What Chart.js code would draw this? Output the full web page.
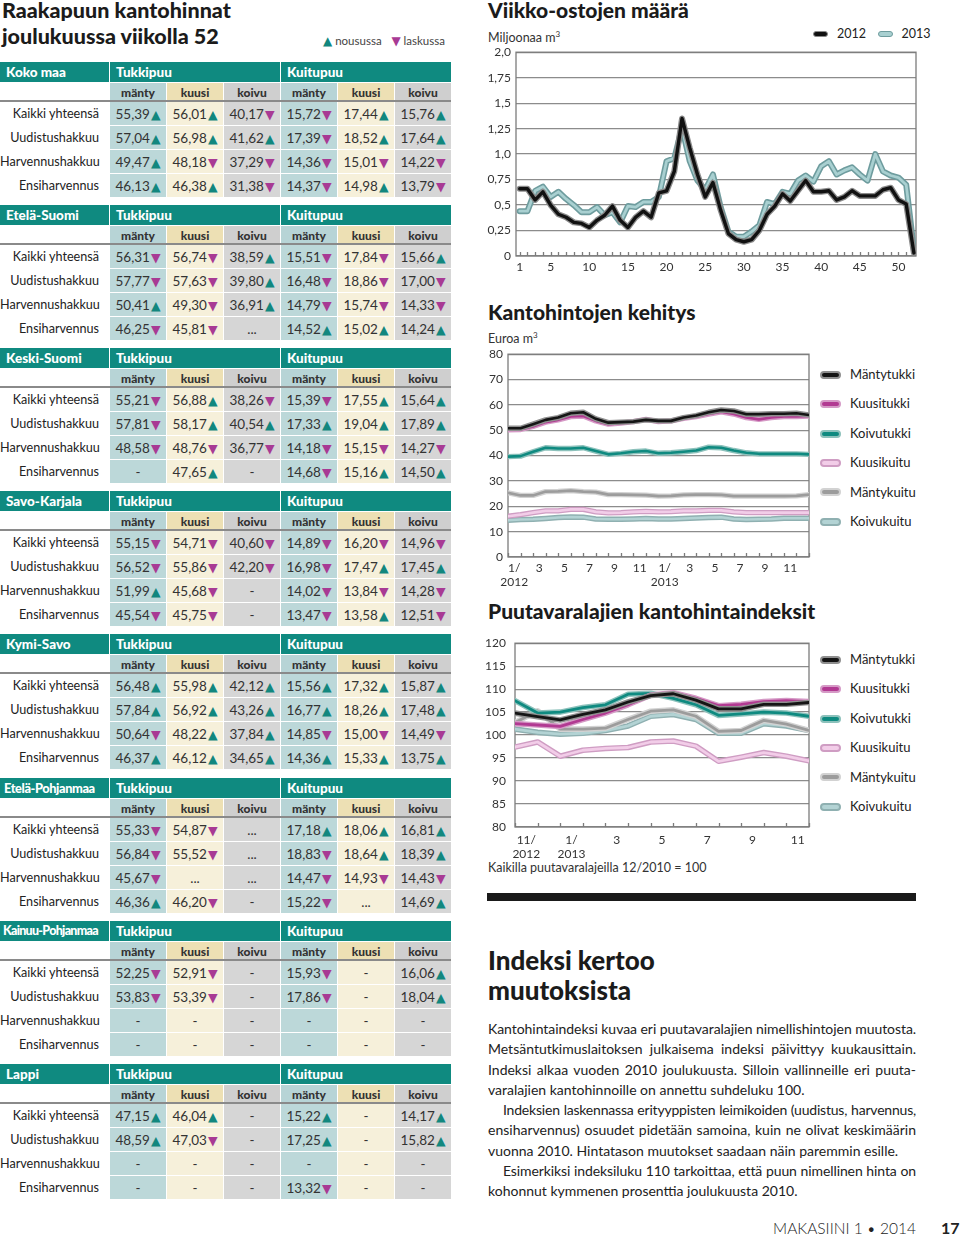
<!DOCTYPE html>
<html lang="fi">
<head>
<meta charset="utf-8">
<title>Raakapuun kantohinnat</title>
<script src="https://cdn.jsdelivr.net/npm/chart.js@4.4.1/dist/chart.umd.min.js"></script>
<style>
  body { margin: 0; width: 960px; height: 1238px; position: relative; overflow: hidden; background: #fff; font-family: Lato, "Open Sans", sans-serif; color: #222; }
  .abs { position: absolute; white-space: nowrap; }
  .ttl { font-weight: 900; font-size: 21px; line-height: 26px; color: #1b1b1b; }
  .unit { font-size: 12.5px; line-height: 16px; color: #333; }
  .up { color: #12877e; }
  .down { color: #a83a94; }
  .arr { font-family: "DejaVu Sans", sans-serif; font-size: 12.5px; margin-left: 1px; }

  .blk { position: absolute; left: 0; width: 451px; display: grid; grid-template-columns: 109px repeat(6, 56px); grid-template-rows: 20px 18px repeat(4, 23px); gap: 1px; }
  .hd { background: #0f8a80; color: #fff; font-weight: 900; font-size: 13.5px; line-height: 20px; padding-left: 6px; white-space: nowrap; overflow: hidden; }
  .hd.mid { font-size: 12.8px; letter-spacing: -0.4px; padding-left: 4px; }
  .hd.small { font-size: 12.5px; letter-spacing: -0.7px; padding-left: 3px; }
  .sub { font-weight: 900; font-size: 12px; line-height: 19px; text-align: center; color: #333; }
  .sub.c0 { background: #b7d4d6; } .sub.c1 { background: #ede0b4; } .sub.c2 { background: #cfcfcf; }
  .cell { text-align: center; font-size: 13.5px; line-height: 24px; color: #333; white-space: nowrap; }
  .cell.c0 { background: #bcd8d9; } .cell.c1 { background: #f6f0da; } .cell.c2 { background: #d6d6d6; }
  .lab { text-align: right; padding-right: 10px; font-size: 12.6px; line-height: 24px; color: #222; white-space: nowrap; }
  .rule { position: absolute; left: 0; top: 38px; width: 451px; height: 2px; background: #8a8a8a; }

  .lg { position: absolute; left: 820px; font-size: 13px; line-height: 16px; color: #222; }
  .pill { display: inline-block; width: 17px; height: 4px; border-radius: 4px; vertical-align: middle; margin-right: 9px; position: relative; top: -1px; }

  .para div { white-space: nowrap; overflow: hidden; text-align: justify; text-align-last: justify; height: 20.25px; line-height: 20.25px; }
  .para div.last { text-align-last: left; }
  .para div.ind { padding-left: 15px; }
</style>
</head>
<body>

<div class="abs ttl" style="left:2px;top:-3px;font-size:21.5px;">Raakapuun kantohinnat<br>joulukuussa viikolla 52</div>
<div class="abs" style="left:322px;top:34px;font-size:11.5px;color:#444;">
  <span class="arr up" style="font-size:12px">▲</span> nousussa&nbsp;&nbsp;&nbsp;<span class="arr down" style="font-size:12px">▼</span> laskussa
</div>
<div id="tables"></div>

<!-- chart 1 -->
<div class="abs ttl" style="left:488px;top:-3px;">Viikko-ostojen määrä</div>
<div class="abs unit" style="left:488px;top:26px;">Miljoonaa m<sup style="font-size:8px">3</sup></div>
<div class="abs" style="left:813px;top:26px;font-size:12.5px;line-height:16px;">
  <span class="pill" style="background:#111;border:1.5px solid #8a8a8a;width:13px;"></span>2012&nbsp;&nbsp;
  <span class="pill" style="background:#a9d0d1;border:1.5px solid #6e9c9e;width:13px;margin-left:2px"></span>2013
</div>
<canvas id="weekly" class="abs" width="440" height="236" style="left:480px;top:40px;"></canvas>

<!-- chart 2 -->
<div class="abs ttl" style="left:488px;top:299px;">Kantohintojen kehitys</div>
<div class="abs unit" style="left:488px;top:327px;">Euroa m<sup style="font-size:8px">3</sup></div>
<canvas id="prices" class="abs" width="335" height="247" style="left:480px;top:342px;"></canvas>
<div id="legend1"></div>

<!-- chart 3 -->
<div class="abs ttl" style="left:488px;top:598px;">Puutavaralajien kantohintaindeksit</div>
<canvas id="indexes" class="abs" width="335" height="232" style="left:480px;top:627px;"></canvas>
<div id="legend2"></div>
<div class="abs unit" style="left:488px;top:860px;">Kaikilla puutavaralajeilla 12/2010 = 100</div>

<div class="abs" style="left:487px;top:893px;width:429px;height:8px;background:#1a1a1a;"></div>

<div class="abs" style="left:488px;top:945px;font-weight:900;font-size:26px;line-height:30px;color:#1b1b1b;">Indeksi kertoo<br>muutoksista</div>
<div id="para" class="abs para" style="left:488px;top:1019px;width:428px;font-size:14px;color:#222;">
  <div>Kantohintaindeksi kuvaa eri puutavaralajien nimellishintojen muutosta.</div>
  <div>Metsäntutkimuslaitoksen julkaisema indeksi päivittyy kuukausittain.</div>
  <div>Indeksi alkaa vuoden 2010 joulukuusta. Silloin vallinneille eri puuta-</div>
  <div class="last">varalajien kantohinnoille on annettu suhdeluku 100.</div>
  <div class="ind">Indeksien laskennassa erityyppisten leimikoiden (uudistus, harvennus,</div>
  <div>ensiharvennus) osuudet pidetään samoina, kuin ne olivat keskimäärin</div>
  <div class="last">vuonna 2010. Hintatason muutokset saadaan näin paremmin esille.</div>
  <div class="ind">Esimerkiksi indeksiluku 110 tarkoittaa, että puun nimellinen hinta on</div>
  <div class="last">kohonnut kymmenen prosenttia joulukuusta 2010.</div>
</div>

<div class="abs" style="left:740px;width:176px;text-align:right;top:1218px;font-size:15.5px;line-height:20px;font-weight:300;color:#222;">MAKASIINI 1 • 2014</div>
<div class="abs" style="left:941px;top:1218px;font-size:16px;line-height:20px;font-weight:700;color:#222;">17</div>

<script>
// ---- table data (u = nousussa, d = laskussa) ----
const rowLabels = ['Kaikki yhteensä', 'Uudistushakkuu', 'Harvennushakkuu', 'Ensiharvennus'];
const species = ['mänty', 'kuusi', 'koivu', 'mänty', 'kuusi', 'koivu'];
const regions = ['Koko maa', 'Etelä-Suomi', 'Keski-Suomi', 'Savo-Karjala', 'Kymi-Savo', 'Etelä-Pohjanmaa', 'Kainuu-Pohjanmaa', 'Lappi'];

const kokoMaa = [
  ['55,39u', '56,01u', '40,17d', '15,72d', '17,44u', '15,76u'],
  ['57,04u', '56,98u', '41,62u', '17,39d', '18,52u', '17,64u'],
  ['49,47u', '48,18d', '37,29d', '14,36d', '15,01d', '14,22d'],
  ['46,13u', '46,38u', '31,38d', '14,37d', '14,98u', '13,79d']
];
const etelaSuomi = [
  ['56,31d', '56,74d', '38,59u', '15,51d', '17,84d', '15,66u'],
  ['57,77d', '57,63d', '39,80u', '16,48d', '18,86d', '17,00d'],
  ['50,41u', '49,30d', '36,91u', '14,79d', '15,74d', '14,33d'],
  ['46,25d', '45,81d', '...', '14,52u', '15,02u', '14,24u']
];
const keskiSuomi = [
  ['55,21d', '56,88u', '38,26d', '15,39d', '17,55u', '15,64u'],
  ['57,81d', '58,17u', '40,54u', '17,33u', '19,04u', '17,89u'],
  ['48,58d', '48,76d', '36,77d', '14,18d', '15,15d', '14,27d'],
  ['-', '47,65u', '-', '14,68d', '15,16u', '14,50u']
];
const savoKarjala = [
  ['55,15d', '54,71d', '40,60d', '14,89d', '16,20d', '14,96d'],
  ['56,52d', '55,86d', '42,20d', '16,98d', '17,47u', '17,45u'],
  ['51,99u', '45,68d', '-', '14,02d', '13,84d', '14,28d'],
  ['45,54d', '45,75d', '-', '13,47d', '13,58u', '12,51d']
];
const kymiSavo = [
  ['56,48u', '55,98u', '42,12u', '15,56u', '17,32u', '15,87u'],
  ['57,84u', '56,92u', '43,26u', '16,77u', '18,26u', '17,48u'],
  ['50,64d', '48,22u', '37,84u', '14,85d', '15,00d', '14,49d'],
  ['46,37u', '46,12u', '34,65u', '14,36u', '15,33u', '13,75u']
];
const etelaPohjanmaa = [
  ['55,33d', '54,87d', '...', '17,18u', '18,06u', '16,81u'],
  ['56,84d', '55,52d', '...', '18,83d', '18,64u', '18,39u'],
  ['45,67d', '...', '...', '14,47d', '14,93d', '14,43d'],
  ['46,36u', '46,20d', '-', '15,22d', '...', '14,69u']
];
const kainuuPohjanmaa = [
  ['52,25d', '52,91d', '-', '15,93d', '-', '16,06u'],
  ['53,83d', '53,39d', '-', '17,86d', '-', '18,04u'],
  ['-', '-', '-', '-', '-', '-'],
  ['-', '-', '-', '-', '-', '-']
];
const lappi = [
  ['47,15u', '46,04u', '-', '15,22u', '-', '14,17u'],
  ['48,59u', '47,03d', '-', '17,25u', '-', '15,82u'],
  ['-', '-', '-', '-', '-', '-'],
  ['-', '-', '-', '13,32d', '-', '-']
];
const regionRows = [kokoMaa, etelaSuomi, keskiSuomi, savoKarjala, kymiSavo, etelaPohjanmaa, kainuuPohjanmaa, lappi];

// ---- Viikko-ostojen määrä, milj. m3, viikot 1-52 ----
const weekTicks = [1, 5, 10, 15, 20, 25, 30, 35, 40, 45, 50];
const weekly2012 = [0.66, 0.66, 0.55, 0.63, 0.50, 0.41, 0.38, 0.33, 0.32, 0.28, 0.35, 0.40, 0.49, 0.35, 0.28, 0.38, 0.44, 0.38, 0.62, 0.64, 0.83, 1.35, 1.06, 0.80, 0.58, 0.72, 0.45, 0.22, 0.16, 0.14, 0.16, 0.25, 0.41, 0.49, 0.61, 0.54, 0.64, 0.74, 0.63, 0.63, 0.64, 0.55, 0.58, 0.64, 0.59, 0.59, 0.59, 0.65, 0.67, 0.55, 0.51, 0.03];
const weekly2013 = [0.44, 0.44, 0.64, 0.68, 0.58, 0.63, 0.56, 0.50, 0.43, 0.43, 0.48, 0.40, 0.43, 0.33, 0.49, 0.48, 0.53, 0.53, 0.58, 0.93, 0.96, 1.26, 0.93, 0.74, 0.65, 0.80, 0.48, 0.24, 0.19, 0.19, 0.24, 0.30, 0.53, 0.51, 0.63, 0.61, 0.74, 0.79, 0.73, 0.88, 0.93, 0.80, 0.84, 0.87, 0.80, 0.74, 1.00, 0.83, 0.79, 0.77, 0.70, 0.06];

// ---- Kantohintojen kehitys, €/m3, kuukausirajat 1/2012 ... 12/2013 ----
const seriesNames = ['Mäntytukki', 'Kuusitukki', 'Koivutukki', 'Kuusikuitu', 'Mäntykuitu', 'Koivukuitu'];
const priceTickLabels = [['1/', '2012'], '3', '5', '7', '9', '11', ['1/', '2013'], '3', '5', '7', '9', '11'];
const priceMantytukki = [50.8, 50.8, 52.4, 54.1, 55.0, 56.7, 57.1, 54.5, 53.0, 53.2, 53.4, 54.1, 53.7, 53.7, 55.0, 55.8, 57.1, 58.0, 57.6, 56.3, 56.3, 56.5, 56.5, 56.7, 56.0];
const priceKuusitukki = [50.2, 50.3, 51.5, 53.2, 54.1, 55.4, 55.6, 53.7, 52.4, 52.8, 53.4, 54.3, 53.4, 53.7, 54.7, 55.4, 56.4, 57.3, 56.4, 55.0, 54.3, 55.0, 55.4, 55.4, 55.6];
const priceKoivutukki = [39.6, 39.8, 41.5, 43.1, 42.8, 42.8, 43.1, 41.8, 40.5, 40.9, 41.5, 41.8, 40.9, 41.1, 41.5, 42.0, 43.3, 43.1, 42.0, 41.1, 40.7, 40.7, 40.7, 40.7, 40.5];
const priceKuusikuitu = [16.1, 16.7, 17.5, 18.2, 18.2, 18.8, 18.8, 17.8, 17.4, 17.5, 17.8, 18.0, 17.8, 17.9, 18.2, 18.2, 18.4, 18.4, 17.8, 17.5, 17.5, 17.5, 17.5, 17.5, 17.5];
const priceMantykuitu = [25.3, 24.3, 24.3, 25.8, 25.9, 26.2, 25.8, 25.6, 24.6, 24.6, 24.5, 24.4, 24.0, 24.1, 24.5, 24.6, 24.6, 24.5, 24.0, 24.0, 24.0, 24.0, 24.0, 24.1, 24.6];
const priceKoivukuitu = [14.5, 14.8, 14.9, 15.2, 15.6, 15.8, 15.7, 15.0, 14.9, 14.9, 15.0, 15.2, 15.0, 15.0, 15.2, 15.4, 15.6, 15.7, 15.0, 14.8, 14.9, 15.0, 15.3, 15.3, 15.3];

// ---- Kantohintaindeksit, 12/2010 = 100, kuukausirajat 11/2012 ... 12/2013 ----
const indexTickLabels = [['11/', '2012'], ['1/', '2013'], '3', '5', '7', '9', '11'];
const indexMantytukki = [104.8, 104.0, 103.3, 104.5, 105.5, 107.2, 108.6, 109.0, 107.6, 105.7, 105.7, 106.7, 106.7, 107.1];
const indexKuusitukki = [102.5, 102.2, 101.9, 103.4, 104.8, 106.6, 108.7, 109.2, 108.0, 106.4, 106.7, 107.3, 107.5, 107.3];
const indexKoivutukki = [107.5, 104.8, 105.0, 106.0, 106.6, 108.9, 109.1, 108.0, 106.6, 104.3, 104.6, 105.0, 104.8, 104.1];
const indexKuusikuitu = [97.4, 98.5, 95.4, 96.7, 97.1, 97.3, 98.5, 98.7, 97.6, 94.3, 95.2, 96.2, 95.4, 94.4];
const indexMantykuitu = [102.7, 105.3, 101.3, 101.3, 101.5, 103.4, 105.2, 105.5, 104.1, 100.8, 101.0, 103.2, 102.4, 101.0];
const indexKoivukuitu = [101.3, 100.6, 100.2, 100.4, 101.0, 102.0, 104.1, 104.5, 103.4, 100.4, 100.4, 102.5, 102.0, 101.0];

const seriesCore = ['#151515', '#b23a92', '#0f8a80', '#f2cde8', '#9c9c9c', '#b3d3d4'];
const seriesHalo = ['#8f8f8f', '#d59ac6', '#8cc1bb', '#cf9dc3', '#d2d2d2', '#8fb0b1'];

// ---------- tables ----------
function cellHtml(v) {
  const dir = v.slice(-1);
  if (dir === 'u') return `${v.slice(0, -1)}<span class="arr up">▲</span>`;
  if (dir === 'd') return `${v.slice(0, -1)}<span class="arr down">▼</span>`;
  return v;
}

const tables = document.getElementById('tables');
regions.forEach((name, bi) => {
  const blk = document.createElement('div');
  blk.className = 'blk';
  blk.style.top = (62 + bi * 143.1) + 'px';
  const size = name.length > 15 ? ' small' : (name.length > 12 ? ' mid' : '');
  let html = `<div class="hd${size}">${name}</div>
    <div class="hd" style="grid-column:2/5">Tukkipuu</div>
    <div class="hd" style="grid-column:5/8">Kuitupuu</div>
    <div></div>`;
  html += species.map((s, i) => `<div class="sub c${i % 3}">${s}</div>`).join('');
  regionRows[bi].forEach((row, ri) => {
    html += `<div class="lab">${rowLabels[ri]}</div>`;
    html += row.map((v, i) => `<div class="cell c${i % 3}">${cellHtml(v)}</div>`).join('');
  });
  html += '<div class="rule"></div>';
  blk.innerHTML = html;
  tables.appendChild(blk);
});

// squeeze paragraph lines that would run past the column
document.querySelectorAll('#para div').forEach(line => {
  let ls = 0;
  while (line.scrollWidth > line.clientWidth && ls > -0.6) {
    ls -= 0.05;
    line.style.letterSpacing = ls + 'px';
  }
});

// ---------- legends ----------
function buildLegend(id, top) {
  const box = document.getElementById(id);
  box.innerHTML = seriesNames.map((n, i) =>
    `<div class="lg" style="top:${top + i * 29.4 - 8}px"><span class="pill" style="background:${seriesCore[i]};border:2px solid ${seriesHalo[i]}"></span>${n}</div>`
  ).join('');
}
buildLegend('legend1', 374);
buildLegend('legend2', 659);

// ---------- charts ----------
Chart.defaults.font.family = 'Lato, "Open Sans", sans-serif';
Chart.defaults.color = '#333';

const frameTicks = {
  id: 'frameTicks',
  beforeDatasetsDraw(chart, args, opts) {
    const { ctx, chartArea: a, scales: { x } } = chart;
    ctx.save();
    ctx.strokeStyle = '#7c7c7c';
    ctx.lineWidth = 1.3;
    ctx.strokeRect(a.left, a.top, a.right - a.left, a.bottom - a.top);
    ctx.beginPath();
    for (let v = opts.from; v <= opts.to; v++) {
      const px = Math.round(x.getPixelForValue(v)) + 0.5;
      ctx.moveTo(px, a.bottom);
      ctx.lineTo(px, a.bottom - opts.len);
    }
    ctx.stroke();
    ctx.restore();
  }
};

function haloLine(values, xOffset, core, halo, coreW, haloW, rank) {
  const data = values.map((v, i) => ({ x: i + xOffset, y: v }));
  const common = { data, pointRadius: 0, tension: 0, borderJoinStyle: 'round', borderCapStyle: 'round', fill: false };
  return [
    { ...common, borderColor: core, borderWidth: coreW, order: rank * 2 },
    { ...common, borderColor: halo, borderWidth: haloW, order: rank * 2 + 1 }
  ];
}

function makeChart(id, cfg) {
  return new Chart(document.getElementById(id), {
    type: 'line',
    data: { datasets: cfg.datasets },
    plugins: [frameTicks],
    options: {
      responsive: false,
      animation: false,
      events: [],
      layout: { padding: { top: 10, right: cfg.padRight, left: 0, bottom: 0 } },
      plugins: {
        legend: { display: false },
        tooltip: { enabled: false },
        frameTicks: cfg.marks
      },
      scales: {
        x: {
          type: 'linear',
          min: cfg.xMin,
          max: cfg.xMax,
          afterBuildTicks: s => { s.ticks = cfg.xTickValues.map(v => ({ value: v })); },
          afterFit: s => { s.height = cfg.xHeight; },
          grid: { display: false, drawTicks: false },
          border: { display: false },
          ticks: {
            autoSkip: false, maxRotation: 0, minRotation: 0, padding: cfg.xPad,
            font: { size: 12 }, color: '#333',
            callback: (v, i) => cfg.xTickLabels[i]
          }
        },
        y: {
          min: cfg.yMin,
          max: cfg.yMax,
          afterFit: s => { s.width = cfg.yWidth; },
          grid: { color: '#8c8c8c', lineWidth: 1.3, drawTicks: false },
          border: { display: false },
          ticks: { stepSize: cfg.yStep, padding: cfg.yPad, font: { size: 12 }, color: '#333', callback: cfg.yFmt }
        }
      }
    }
  });
}

makeChart('weekly', {
  datasets: [
    ...haloLine(weekly2012, 1, '#111111', '#8a8a8a', 3.4, 6, 0),
    ...haloLine(weekly2013, 1, '#a9d0d1', '#6e9c9e', 2.8, 6, 1)
  ],
  xMin: 0.52, xMax: 52.27,
  xTickValues: weekTicks, xTickLabels: weekTicks.map(String),
  xHeight: 20, xPad: 4,
  yMin: 0, yMax: 2, yStep: 0.25, yWidth: 36, yPad: 5,
  yFmt: v => v === 0 ? '0' : (Number.isInteger(v) ? v + ',0' : String(v).replace('.', ',')),
  padRight: 4,
  marks: { from: 1, to: 52, len: 4 }
});

const priceSeries = [priceMantytukki, priceKuusitukki, priceKoivutukki, priceKuusikuitu, priceMantykuitu, priceKoivukuitu];
const priceDrawOrder = [0, 1, 2, 4, 3, 5];
makeChart('prices', {
  datasets: priceDrawOrder.flatMap((s, rank) => haloLine(priceSeries[s], 0, seriesCore[s], seriesHalo[s], 2.6, 5.4, rank)),
  xMin: 0, xMax: 24,
  xTickValues: priceTickLabels.map((l, i) => 0.5 + i * 2), xTickLabels: priceTickLabels,
  xHeight: 32, xPad: 4,
  yMin: 0, yMax: 80, yStep: 10, yWidth: 28, yPad: 5,
  yFmt: v => String(v),
  padRight: 6,
  marks: { from: 0, to: 24, len: 4 }
});

const indexSeries = [indexMantytukki, indexKuusitukki, indexKoivutukki, indexKuusikuitu, indexMantykuitu, indexKoivukuitu];
const indexDrawOrder = [0, 1, 2, 4, 5, 3];
makeChart('indexes', {
  datasets: indexDrawOrder.flatMap((s, rank) => haloLine(indexSeries[s], 0, seriesCore[s], seriesHalo[s], 2.8, 5.6, rank)),
  xMin: 0, xMax: 13,
  xTickValues: indexTickLabels.map((l, i) => 0.5 + i * 2), xTickLabels: indexTickLabels,
  xHeight: 32, xPad: 6,
  yMin: 80, yMax: 120, yStep: 5, yWidth: 35, yPad: 9,
  yFmt: v => String(v),
  padRight: 6,
  marks: { from: 0, to: 13, len: 4 }
});
</script>
</body>
</html>
